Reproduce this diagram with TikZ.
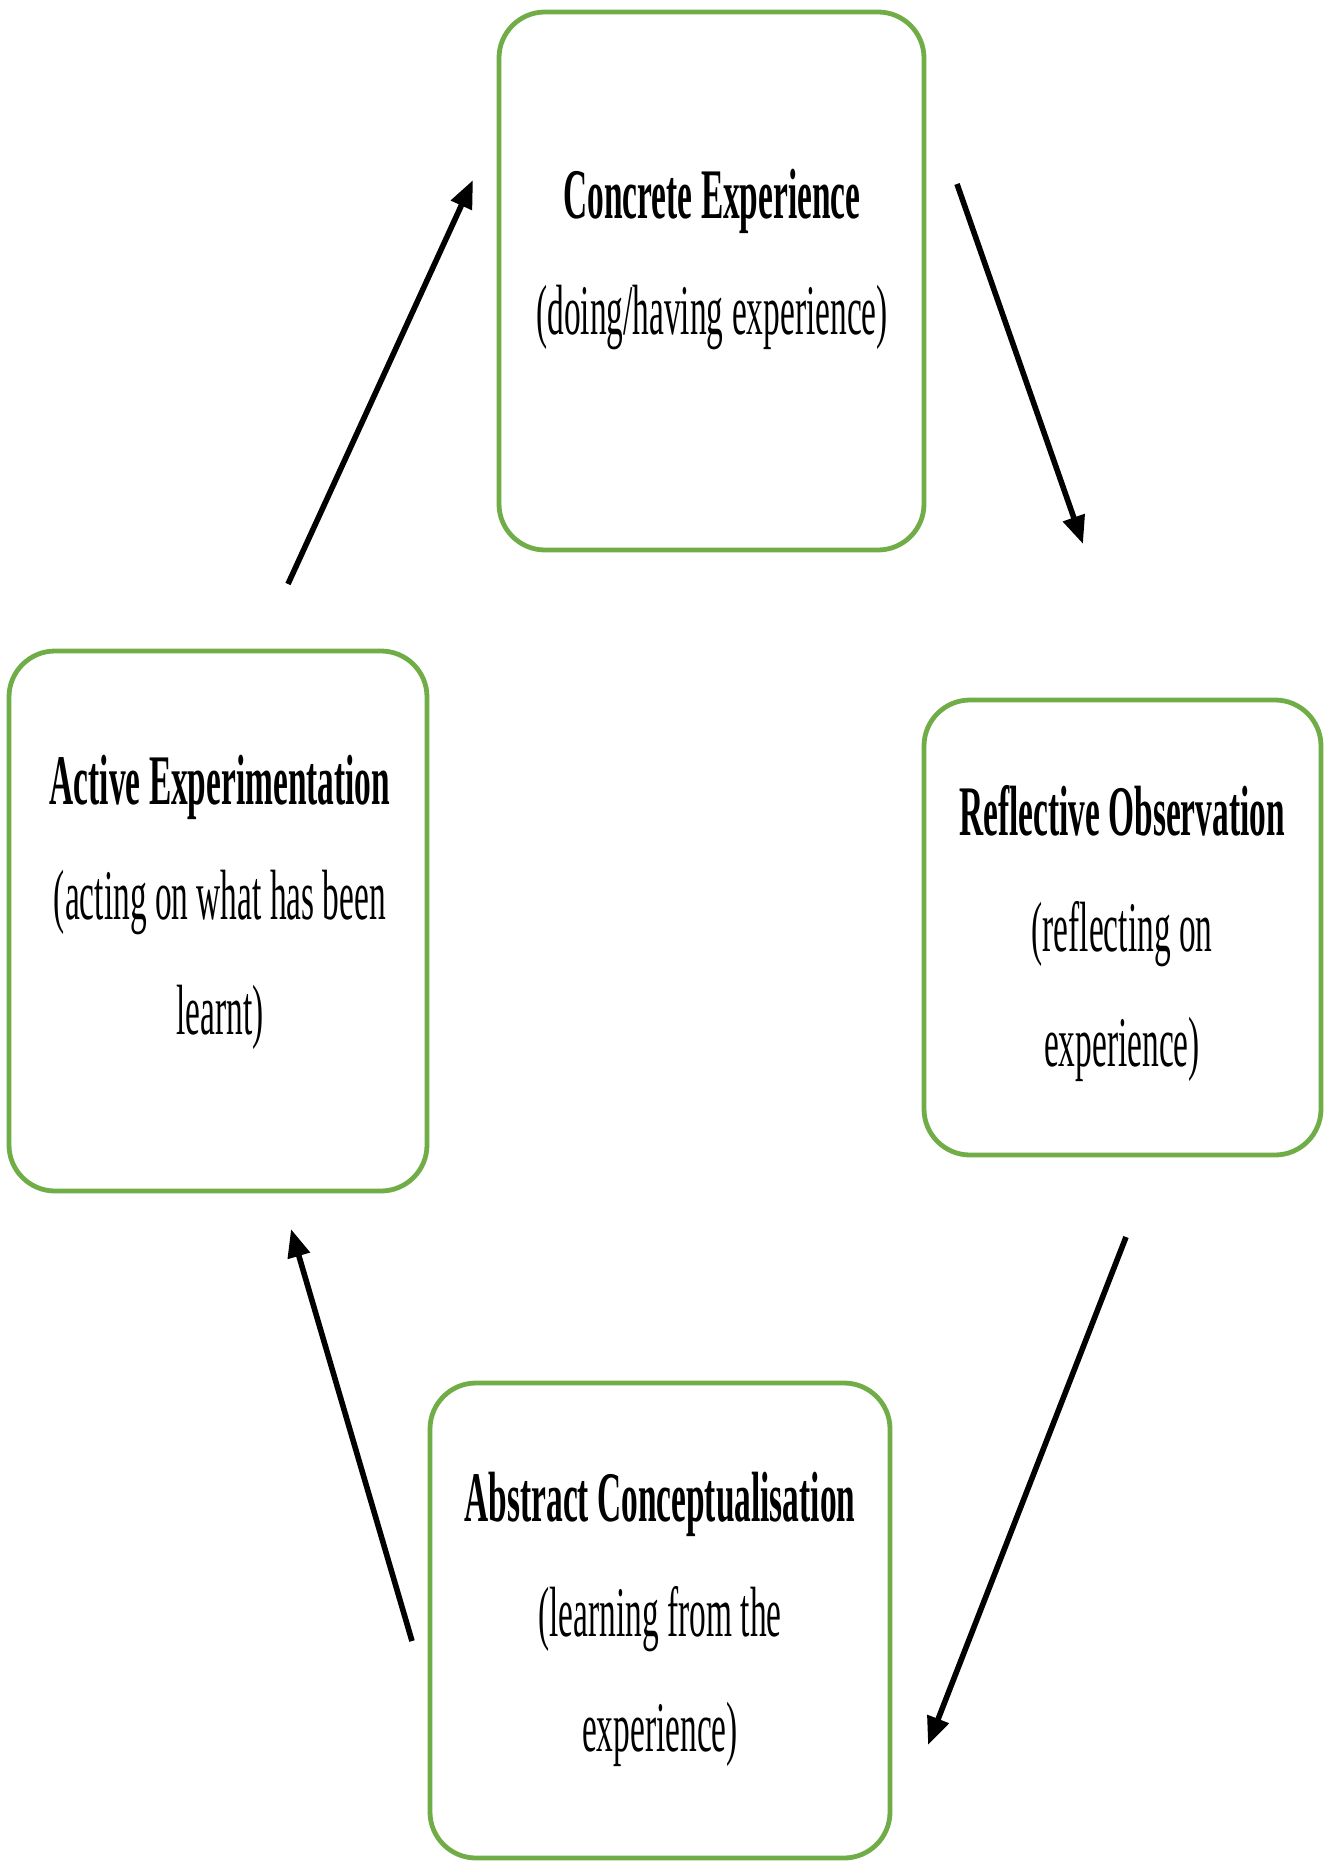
\documentclass[tikz,border=0pt]{standalone}
\usepackage{fontspec}
\setmainfont{Liberation Serif}
\usetikzlibrary{arrows.meta}
\definecolor{boxgreen}{RGB}{112,173,71}
\tikzset{
  stage/.style={draw=boxgreen, line width=2.4pt, rounded corners=23pt, fill=white, inner sep=0pt},
  flow/.style={line width=2.8pt, -{Triangle[length=14pt,width=11pt]}},
  caption/.style={inner sep=0pt, anchor=center}
}
% tall, narrow two/three-line stage label
\newcommand{\stagetext}[2]{\scalebox{1}[2.13]{\fontsize{16.7}{27}\selectfont\begin{tabular}{@{}c@{}}\textbf{#1}\\#2\end{tabular}}}
\begin{document}
\begin{tikzpicture}[x=0.5pt,y=-0.5pt]
  \useasboundingbox (0,0) rectangle (1325,1861);

  % the four stages of the cycle
  \node[stage, minimum width=212.5pt, minimum height=269pt] (ce) at (711.5,281) {};
  \node[stage, minimum width=198.5pt, minimum height=227.5pt] (ro) at (1122.5,927.5) {};
  \node[stage, minimum width=230pt, minimum height=237.5pt] (ac) at (660,1620.5) {};
  \node[stage, minimum width=209pt, minimum height=270pt] (ae) at (218,921) {};

  \node[caption] (ce-t) at (712,253.5) {\stagetext{Concrete Experience}{(doing/having experience)}};
  \node[caption] (ro-t) at (1122,928) {\stagetext{Reflective Observation}{(reflecting on\\experience)}};
  \node[caption] (ac-t) at (660,1613) {\stagetext{Abstract Conceptualisation}{(learning from the\\experience)}};
  \node[caption] (ae-t) at (220,896.5) {\stagetext{Active Experimentation}{(acting on what has been\\learnt)}};

  % arrow ends between the stages
  \coordinate (ae-out) at (288,584);
  \coordinate (ce-in)  at (473,180);
  \coordinate (ce-out) at (957,184);
  \coordinate (ro-in)  at (1083,544);
  \coordinate (ro-out) at (1126,1237);
  \coordinate (ac-in)  at (928,1745);
  \coordinate (ac-out) at (412,1641);
  \coordinate (ae-in)  at (291,1229);

  \draw[flow] (ae-out) -- (ce-in);
  \draw[flow] (ce-out) -- (ro-in);
  \draw[flow] (ro-out) -- (ac-in);
  \draw[flow] (ac-out) -- (ae-in);
\end{tikzpicture}
\end{document}
